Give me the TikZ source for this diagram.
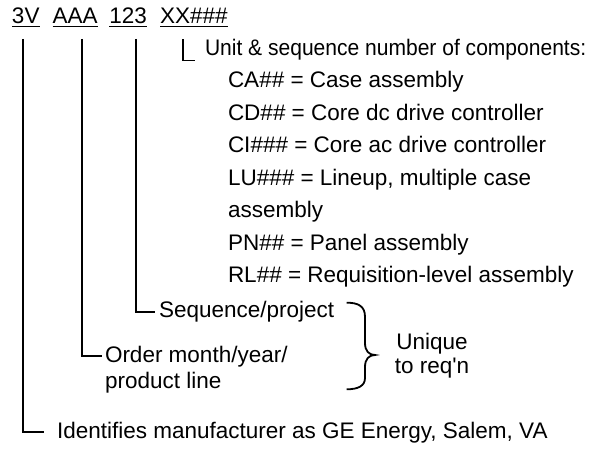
\documentclass[tikz,border=0pt]{standalone}
\usepackage{graphicx}
\usepackage{fontspec}
\setmainfont{Liberation Sans}
\begin{document}
\begin{tikzpicture}[x=1pt,y=-1pt,
  txt/.style={anchor=base west,inner sep=0pt,outer sep=0pt,font=\fontsize{22.5}{26}\selectfont},
  ctxt/.style={anchor=base,inner sep=0pt,outer sep=0pt,font=\fontsize{22.5}{26}\selectfont},
  conn/.style={line width=2pt},
  thin conn/.style={line width=1.5pt},
  uline/.style={line width=1.3pt}]
\useasboundingbox (0,0) rectangle (616,449);
% code words
\node[txt] (w1) at (12,24) {3V};
\node[txt] (w2) at (52.7,24) {AAA};
\node[txt] (w3) at (109.3,24) {123};
\node[txt] (w4) at (160,24) {XX\#\#\#};
\foreach \w in {w1,w2,w3,w4}
  \draw[uline] ([yshift=-2.6pt]\w.base west) -- ([yshift=-2.6pt]\w.base east);
% component list
\node[txt] (unit) at (205,55.7) {\scalebox{0.935}[1]{Unit \& sequence number of components:}};
\node[txt] (ca) at (228,88) {CA\#\# = Case assembly};
\node[txt] (cd) at (228,120.5) {CD\#\# = Core dc drive controller};
\node[txt] (ci) at (228,153) {CI\#\#\# = Core ac drive controller};
\node[txt] (lu) at (228,185.5) {LU\#\#\# = Lineup, multiple case};
\node[txt] (lu2) at (228,218) {assembly};
\node[txt] (pn) at (228,250.5) {PN\#\# = Panel assembly};
\node[txt] (rl) at (228,283) {RL\#\# = Requisition-level assembly};
% other labels
\node[txt] (seq) at (159,317) {Sequence/project};
\node[txt] (ord) at (105,362) {Order month/year/};
\node[txt] (ord2) at (105,388) {product line};
\node[txt] (ident) at (57,438) {Identifies manufacturer as GE Energy, Salem, VA};
\node[ctxt] (uq) at (432,349) {Unique};
\node[ctxt] (uq2) at (432,373) {to req\textquotesingle n};
% connector coordinates
\coordinate (t1) at (23,39);
\coordinate (e1) at (44,431.7);
\coordinate (t2) at (82,39);
\coordinate (e2) at (102,356);
\coordinate (t3) at (136,39);
\coordinate (e3) at (155,311.5);
\coordinate (t4) at (183,39.3);
\coordinate (e4) at (195,60.7);
\draw[conn] (t1) |- (e1);
\draw[conn] (t2) |- (e2);
\draw[conn] (t3) |- (e3);
\draw[thin conn] (t4) |- (e4);
% brace
\draw[line width=1.8pt] (346.7,302.7) .. controls (358,302.7) and (365,306) .. (365,316.7)
  -- (365,343) .. controls (365,351) and (369,355) .. (375,355)
  .. controls (369,355) and (365,359) .. (365,367)
  -- (365,378) .. controls (365,386) and (358,389.3) .. (346.7,389.3);
\end{tikzpicture}
\end{document}
